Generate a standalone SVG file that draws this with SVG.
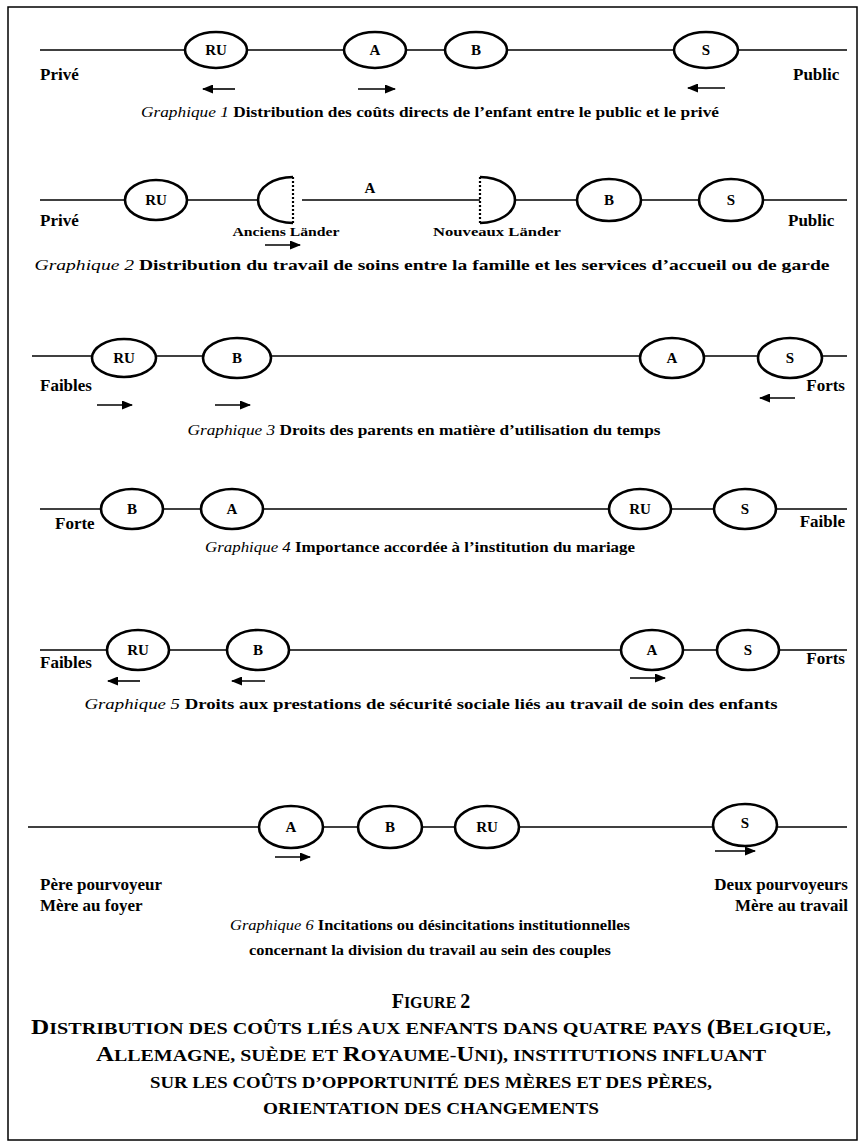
<svg xmlns="http://www.w3.org/2000/svg" width="861" height="1147" viewBox="0 0 861 1147">
<defs>
<marker id="ah" markerUnits="userSpaceOnUse" markerWidth="11" markerHeight="9" refX="10" refY="4.5" orient="auto">
<path d="M0,0 L11,4.5 L0,9 z" fill="#000"/>
</marker>
<style>
.ax{stroke:#000;stroke-width:1.4;fill:none}
.nd{fill:#fff;stroke:#000;stroke-width:2.6}
.half{fill:#fff;stroke:#000;stroke-width:2.6}
.dot{stroke:#000;stroke-width:2.2;stroke-dasharray:2,2;fill:none}
.arr{stroke:#000;stroke-width:1.6;marker-end:url(#ah)}
.lb{font-family:"Liberation Serif",serif;font-weight:bold;font-size:17px;fill:#000}
.sm{font-family:"Liberation Serif",serif;font-weight:bold;font-size:12px;fill:#000;text-anchor:middle}
.nl{font-family:"Liberation Serif",serif;font-weight:bold;font-size:15px;text-anchor:middle;fill:#000}
.cap{font-family:"Liberation Serif",serif;font-weight:bold;font-size:15px;text-anchor:middle;fill:#000}
.it{font-style:italic;font-weight:normal}
.fig{font-family:"Liberation Serif",serif;font-weight:bold;font-size:16px;text-anchor:middle;fill:#000}
.bg{font-size:20px}
.r{text-anchor:end}
</style>
</defs>
<rect x="8" y="7" width="849" height="1133" fill="#fff" stroke="#000" stroke-width="1.5"/>

<g id="connectors">
<line class="ax" x1="40" y1="50" x2="847" y2="50"/>
<line class="arr" x1="235" y1="89" x2="203" y2="89"/>
<line class="arr" x1="358" y1="89" x2="395" y2="89"/>
<line class="arr" x1="725" y1="88" x2="688" y2="88"/>

<line class="ax" x1="40" y1="200" x2="258" y2="200"/>
<line class="ax" x1="302" y1="200" x2="480" y2="200"/>
<line class="ax" x1="515" y1="200" x2="847" y2="200"/>
<line class="arr" x1="265" y1="245" x2="300" y2="245"/>

<line class="ax" x1="32" y1="356" x2="847" y2="356"/>
<line class="arr" x1="97" y1="405" x2="132" y2="405"/>
<line class="arr" x1="215" y1="405" x2="250" y2="405"/>
<line class="arr" x1="795" y1="398" x2="760" y2="398"/>

<line class="ax" x1="40" y1="509" x2="847" y2="509"/>

<line class="ax" x1="40" y1="650" x2="847" y2="650"/>
<line class="arr" x1="140" y1="681" x2="108" y2="681"/>
<line class="arr" x1="265" y1="681" x2="232" y2="681"/>
<line class="arr" x1="630" y1="678" x2="665" y2="678"/>

<line class="ax" x1="28" y1="827" x2="847" y2="827"/>
<line class="arr" x1="275" y1="857" x2="310" y2="857"/>
<line class="arr" x1="715" y1="851" x2="755" y2="851"/>
</g>

<g id="graph1">
<g id="g1-RU"><ellipse class="nd" cx="216" cy="50" rx="31" ry="18"/><text class="nl" x="216" y="55">RU</text></g>
<g id="g1-A"><ellipse class="nd" cx="375" cy="50" rx="31" ry="18"/><text class="nl" x="375" y="55">A</text></g>
<g id="g1-B"><ellipse class="nd" cx="476" cy="50" rx="31" ry="18"/><text class="nl" x="476" y="55">B</text></g>
<g id="g1-S"><ellipse class="nd" cx="706" cy="50" rx="32" ry="18"/><text class="nl" x="706" y="55">S</text></g>
<text class="lb" x="40" y="80">Privé</text>
<text class="lb" x="793" y="80">Public</text>
<text class="cap" x="430" y="117" textLength="578" lengthAdjust="spacingAndGlyphs"><tspan class="it">Graphique 1</tspan> Distribution des coûts directs de l’enfant entre le public et le privé</text>
</g>

<g id="graph2">
<g id="g2-RU"><ellipse class="nd" cx="156" cy="200" rx="31" ry="20"/><text class="nl" x="156" y="205">RU</text></g>
<g id="g2-anciens"><path class="half" d="M293,177 A35,23 0 0 0 293,223"/><line class="dot" x1="293" y1="177" x2="293" y2="223"/><text class="sm" x="286" y="236" textLength="107" lengthAdjust="spacingAndGlyphs">Anciens Länder</text></g>
<text class="nl" x="370" y="193">A</text>
<g id="g2-nouveaux"><path class="half" d="M480,177 A35,23 0 0 1 480,223"/><line class="dot" x1="480" y1="177" x2="480" y2="223"/><text class="sm" x="497" y="236" textLength="128" lengthAdjust="spacingAndGlyphs">Nouveaux Länder</text></g>
<g id="g2-B"><ellipse class="nd" cx="609" cy="200" rx="32" ry="21"/><text class="nl" x="609" y="205">B</text></g>
<g id="g2-S"><ellipse class="nd" cx="731" cy="200" rx="32" ry="21"/><text class="nl" x="731" y="205">S</text></g>
<text class="lb" x="40" y="226">Privé</text>
<text class="lb" x="788" y="226">Public</text>
<text class="cap" x="432" y="270" textLength="795" lengthAdjust="spacingAndGlyphs"><tspan class="it">Graphique 2</tspan> Distribution du travail de soins entre la famille et les services d’accueil ou de garde</text>
</g>

<g id="graph3">
<g id="g3-RU"><ellipse class="nd" cx="124" cy="358" rx="32" ry="19"/><text class="nl" x="124" y="363">RU</text></g>
<g id="g3-B"><ellipse class="nd" cx="237" cy="358" rx="34" ry="20"/><text class="nl" x="237" y="363">B</text></g>
<g id="g3-A"><ellipse class="nd" cx="672" cy="358" rx="32" ry="20"/><text class="nl" x="672" y="363">A</text></g>
<g id="g3-S"><ellipse class="nd" cx="790" cy="358" rx="32" ry="20"/><text class="nl" x="790" y="363">S</text></g>
<text class="lb" x="40" y="391">Faibles</text>
<text class="lb r" x="845" y="391">Forts</text>
<text class="cap" x="424" y="435" textLength="473" lengthAdjust="spacingAndGlyphs"><tspan class="it">Graphique 3</tspan> Droits des parents en matière d’utilisation du temps</text>
</g>

<g id="graph4">
<g id="g4-B"><ellipse class="nd" cx="132" cy="509" rx="31" ry="20"/><text class="nl" x="132" y="514">B</text></g>
<g id="g4-A"><ellipse class="nd" cx="232" cy="509" rx="31" ry="20"/><text class="nl" x="232" y="514">A</text></g>
<g id="g4-RU"><ellipse class="nd" cx="640" cy="509" rx="31" ry="20"/><text class="nl" x="640" y="514">RU</text></g>
<g id="g4-S"><ellipse class="nd" cx="745" cy="509" rx="31" ry="20"/><text class="nl" x="745" y="514">S</text></g>
<text class="lb" x="55" y="529">Forte</text>
<text class="lb r" x="845" y="527">Faible</text>
<text class="cap" x="420" y="552" textLength="430" lengthAdjust="spacingAndGlyphs"><tspan class="it">Graphique 4</tspan> Importance accordée à l’institution du mariage</text>
</g>

<g id="graph5">
<g id="g5-RU"><ellipse class="nd" cx="138" cy="650" rx="31" ry="20"/><text class="nl" x="138" y="655">RU</text></g>
<g id="g5-B"><ellipse class="nd" cx="258" cy="650" rx="31" ry="20"/><text class="nl" x="258" y="655">B</text></g>
<g id="g5-A"><ellipse class="nd" cx="652" cy="650" rx="31" ry="20"/><text class="nl" x="652" y="655">A</text></g>
<g id="g5-S"><ellipse class="nd" cx="748" cy="650" rx="31" ry="20"/><text class="nl" x="748" y="655">S</text></g>
<text class="lb" x="40" y="668">Faibles</text>
<text class="lb r" x="845" y="664">Forts</text>
<text class="cap" x="431" y="709" textLength="693" lengthAdjust="spacingAndGlyphs"><tspan class="it">Graphique 5</tspan> Droits aux prestations de sécurité sociale liés au travail de soin des enfants</text>
</g>

<g id="graph6">
<g id="g6-A"><ellipse class="nd" cx="291" cy="827" rx="32" ry="21"/><text class="nl" x="291" y="832">A</text></g>
<g id="g6-B"><ellipse class="nd" cx="390" cy="827" rx="32" ry="21"/><text class="nl" x="390" y="832">B</text></g>
<g id="g6-RU"><ellipse class="nd" cx="487" cy="827" rx="32" ry="21"/><text class="nl" x="487" y="832">RU</text></g>
<g id="g6-S"><ellipse class="nd" cx="745" cy="825" rx="32" ry="21"/><text class="nl" x="745" y="828">S</text></g>
<text class="lb" x="40" y="890">Père pourvoyeur</text>
<text class="lb" x="40" y="911">Mère au foyer</text>
<text class="lb r" x="848" y="890">Deux pourvoyeurs</text>
<text class="lb r" x="848" y="911">Mère au travail</text>
<text class="cap" x="430" y="930" textLength="400" lengthAdjust="spacingAndGlyphs"><tspan class="it">Graphique 6</tspan> Incitations ou désincitations institutionnelles</text>
<text class="cap" x="430" y="955" textLength="362" lengthAdjust="spacingAndGlyphs">concernant la division du travail au sein des couples</text>
</g>

<g id="figure-caption">
<text class="fig" x="431" y="1008"><tspan class="bg">F</tspan>IGURE <tspan class="bg">2</tspan></text>
<text class="fig" x="431" y="1034" textLength="800" lengthAdjust="spacingAndGlyphs"><tspan class="bg">D</tspan>ISTRIBUTION DES COÛTS LIÉS AUX ENFANTS DANS QUATRE PAYS <tspan class="bg">(B</tspan>ELGIQUE,</text>
<text class="fig" x="431" y="1061" textLength="670" lengthAdjust="spacingAndGlyphs"><tspan class="bg">A</tspan>LLEMAGNE, SUÈDE ET <tspan class="bg">R</tspan>OYAUME-<tspan class="bg">U</tspan>NI), INSTITUTIONS INFLUANT</text>
<text class="fig" x="431" y="1088" textLength="562" lengthAdjust="spacingAndGlyphs">SUR LES COÛTS D’OPPORTUNITÉ DES MÈRES ET DES PÈRES,</text>
<text class="fig" x="431" y="1114" textLength="336" lengthAdjust="spacingAndGlyphs">ORIENTATION DES CHANGEMENTS</text>
</g>
</svg>
